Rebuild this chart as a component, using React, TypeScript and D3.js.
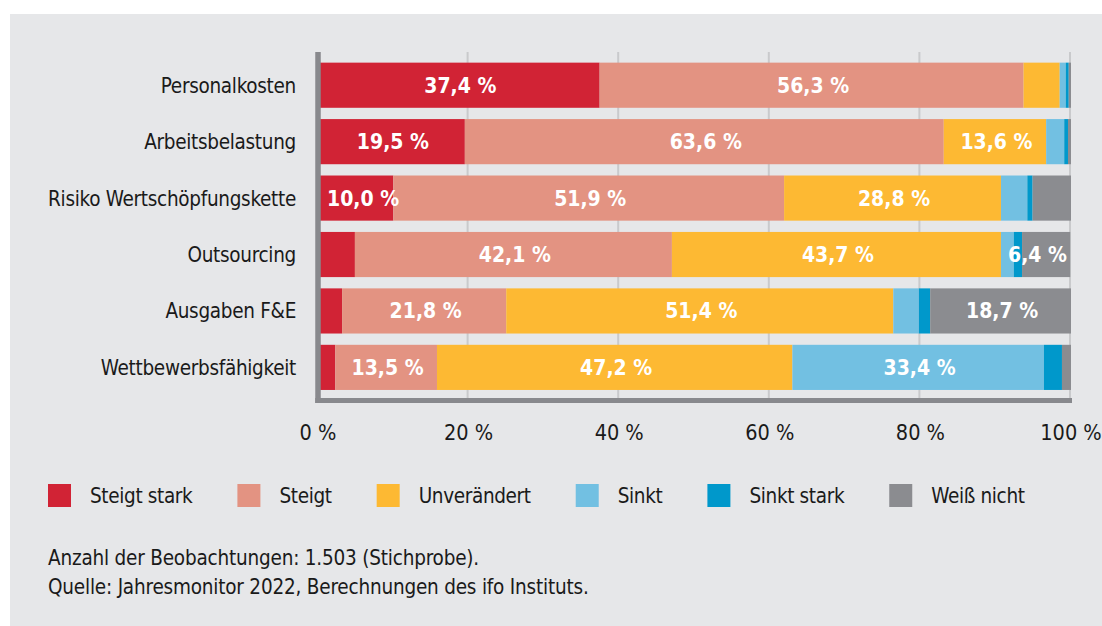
import { useEffect, useRef } from "react";
import * as d3 from "d3";

const categories = [
  "Personalkosten",
  "Arbeitsbelastung",
  "Risiko Wertschöpfungskette",
  "Outsourcing",
  "Ausgaben F&E",
  "Wettbewerbsfähigkeit",
];

const seriesNames = ["Steigt stark", "Steigt", "Unverändert", "Sinkt", "Sinkt stark", "Weiß nicht"];
const seriesColors = ["#d12335", "#e39382", "#fdb933", "#72c0e2", "#0098cb", "#8b8c90"];

const steigtStark = [37.4, 19.5, 10.0, 4.9, 3.2, 2.3];
const steigt = [56.3, 63.6, 51.9, 42.1, 21.8, 13.5];
const unveraendert = [4.8, 13.6, 28.8, 43.7, 51.4, 47.2];
const sinkt = [0.8, 2.4, 3.5, 1.7, 3.4, 33.4];
const sinktStark = [0.4, 0.5, 0.7, 1.1, 1.5, 2.4];
const weissNicht = [0.3, 0.4, 5.1, 6.4, 18.7, 1.2];

const xTicks = [0, 20, 40, 60, 80, 100];

const footnotes = [
  "Anzahl der Beobachtungen: 1.503 (Stichprobe).",
  "Quelle: Jahresmonitor 2022, Berechnungen des ifo Instituts.",
];

const FONT = "'DejaVu Sans Condensed', 'DejaVu Sans', sans-serif";
const TEXT = "#1a1a1a";
const AXIS = "#88898d";
const GRID = "#c9cacc";

const pct = (v: number) => d3.format(".1f")(v).replace(".", ",") + " %";

export default function App() {
  const ref = useRef<SVGSVGElement>(null);

  useEffect(() => {
    const svg = d3.select(ref.current);
    svg.selectAll("*").remove();

    const width = 1102;
    const height = 626;

    svg.append("rect")
      .attr("x", 10).attr("y", 14)
      .attr("width", width - 10).attr("height", height - 14)
      .attr("fill", "#e6e7e9");

    const rows = categories.map((c, i) => ({
      cat: c,
      [seriesNames[0]]: steigtStark[i],
      [seriesNames[1]]: steigt[i],
      [seriesNames[2]]: unveraendert[i],
      [seriesNames[3]]: sinkt[i],
      [seriesNames[4]]: sinktStark[i],
      [seriesNames[5]]: weissNicht[i],
    }));

    const x = d3.scaleLinear().domain([0, 100]).range([318, 1071]);
    const y = d3.scaleBand()
      .domain(categories)
      .range([57, 395.6])
      .paddingInner(0.2)
      .paddingOuter(0.1);
    const color = d3.scaleOrdinal<string>().domain(seriesNames).range(seriesColors);

    const top = 52;
    const bottom = 400.5;

    // gridlines
    svg.append("g")
      .selectAll("line")
      .data(xTicks.filter((t) => t > 0))
      .join("line")
      .attr("x1", (d) => x(d) - 1).attr("x2", (d) => x(d) - 1)
      .attr("y1", top).attr("y2", bottom)
      .attr("stroke", GRID).attr("stroke-width", 2);

    const stacked = d3.stack<any>().keys(seriesNames)(rows);

    const layers = svg.append("g")
      .selectAll("g")
      .data(stacked)
      .join("g")
      .attr("fill", (d) => color(d.key));

    layers.selectAll("rect")
      .data((d) => d)
      .join("rect")
      .attr("x", (d) => x(d[0]))
      .attr("width", (d) => x(d[1]) - x(d[0]))
      .attr("y", (d) => y(d.data.cat)!)
      .attr("height", y.bandwidth());

    // value labels, kept inside the bar as a whole
    const labelG = svg.append("g")
      .attr("font-family", FONT)
      .attr("font-size", 21)
      .attr("font-weight", "bold")
      .attr("fill", "#fff");

    const barLeft = x(0) + 3;
    const barRight = x(100);
    stacked.forEach((layer) => {
      layer.forEach((d) => {
        const v = d[1] - d[0];
        if (v < 6) return;
        const t = labelG.append("text")
          .attr("y", y(d.data.cat)! + y.bandwidth() / 2 + 7.5)
          .attr("text-anchor", "middle")
          .text(pct(v));
        const w = (t.node() as SVGTextElement).getComputedTextLength();
        let cx = (x(d[0]) + 3 + x(d[1])) / 2;
        cx = Math.min(cx, barRight - 4 - w / 2);
        cx = Math.max(cx, barLeft + 6 + w / 2);
        t.attr("x", cx);
      });
    });

    // axes
    svg.append("line")
      .attr("x1", 318).attr("x2", 318)
      .attr("y1", top).attr("y2", 403)
      .attr("stroke", AXIS).attr("stroke-width", 5.5);
    svg.append("line")
      .attr("x1", 315.25).attr("x2", 1072)
      .attr("y1", 400.5).attr("y2", 400.5)
      .attr("stroke", AXIS).attr("stroke-width", 5);

    // category labels
    svg.append("g")
      .attr("font-family", FONT)
      .attr("font-size", 20.5)
      .attr("letter-spacing", -0.3)
      .attr("fill", TEXT)
      .attr("text-anchor", "end")
      .selectAll("text")
      .data(categories)
      .join("text")
      .attr("x", 296)
      .attr("y", (d) => y(d)! + y.bandwidth() / 2 + 7.5)
      .text((d) => d);

    // tick labels
    svg.append("g")
      .attr("font-family", FONT)
      .attr("font-size", 21.5)
      .attr("fill", TEXT)
      .attr("text-anchor", "middle")
      .selectAll("text")
      .data(xTicks)
      .join("text")
      .attr("x", (d) => x(d))
      .attr("y", 440)
      .text((d) => `${d} %`);

    // legend
    const legend = svg.append("g")
      .attr("font-family", FONT)
      .attr("font-size", 20.5)
      .attr("letter-spacing", -0.35)
      .attr("fill", TEXT);
    let lx = 48;
    seriesNames.forEach((name) => {
      legend.append("rect")
        .attr("x", lx).attr("y", 484)
        .attr("width", 23).attr("height", 23)
        .attr("fill", color(name));
      const t = legend.append("text")
        .attr("x", lx + 42).attr("y", 502.5)
        .text(name);
      const w = (t.node() as SVGTextElement).getComputedTextLength();
      lx += 42 + w + 45;
    });

    // footnotes
    svg.append("g")
      .attr("font-family", FONT)
      .attr("font-size", 20.5)
      .attr("letter-spacing", -0.2)
      .attr("fill", TEXT)
      .selectAll("text")
      .data(footnotes)
      .join("text")
      .attr("x", 48)
      .attr("y", (_, i) => 565 + i * 29)
      .text((d) => d);
  }, []);

  return (
    <svg
      ref={ref}
      width={1102}
      height={626}
      style={{ position: "absolute", left: 0, top: 0 }}
    />
  );
}
